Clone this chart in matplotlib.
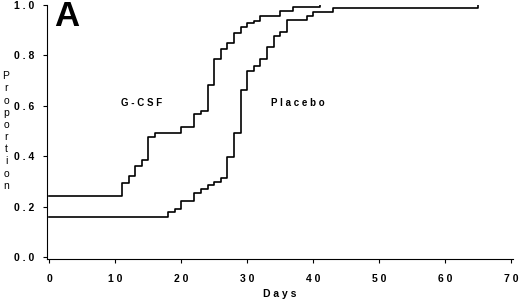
import matplotlib
matplotlib.use("Agg")
import matplotlib.pyplot as plt

# Data
gcsf_days = [0, 11, 12, 13, 14, 15, 16, 20, 22, 23, 24, 25, 26, 27, 28, 29, 30, 31, 32, 35, 37, 41]
gcsf_prop = [0.243, 0.295, 0.321, 0.361, 0.385, 0.477, 0.49, 0.517, 0.566, 0.579, 0.683, 0.785,
             0.825, 0.85, 0.888, 0.914, 0.927, 0.938, 0.955, 0.977, 0.993, 1.0]
placebo_days = [0, 18, 19, 20, 22, 23, 24, 25, 26, 27, 28, 29, 30, 31, 32, 33, 34, 35, 36, 39, 40, 43, 65]
placebo_prop = [0.16, 0.178, 0.192, 0.222, 0.253, 0.269, 0.286, 0.299, 0.315, 0.396, 0.49, 0.663,
                0.739, 0.758, 0.784, 0.832, 0.877, 0.894, 0.94, 0.956, 0.971, 0.987, 1.0]
x_ticks = [0, 10, 20, 30, 40, 50, 60, 70]
x_tick_labels = ["0", "1 0", "2 0", "3 0", "4 0", "5 0", "6 0", "7 0"]
y_ticks = [0.0, 0.2, 0.4, 0.6, 0.8, 1.0]
y_tick_labels = ["0 . 0", "0 . 2", "0 . 4", "0 . 6", "0 . 8", "1 . 0"]

plt.rcParams['font.family'] = ['Liberation Sans', 'DejaVu Sans']

fig = plt.figure(figsize=(5.2, 3.0), dpi=100)
ax = fig.add_axes([0.0898, 0.1367, 0.8958, 0.8467])

ax.step(gcsf_days, gcsf_prop, where='post', color='black', lw=1.2)
ax.step(placebo_days, placebo_prop, where='post', color='black', lw=1.2)

ax.set_xlim(-0.4, 70.2)
ax.set_ylim(-0.008, 1.0)
for s in ['top', 'right']:
    ax.spines[s].set_visible(False)
ax.spines['left'].set_bounds(-0.008, 1.0)
ax.spines['left'].set_linewidth(0.8)
ax.spines['bottom'].set_linewidth(0.8)

ax.set_xticks(x_ticks)
ax.set_xticklabels(x_tick_labels, fontsize=7.5, fontweight='bold')
ax.set_yticks(y_ticks)
ax.set_yticklabels(y_tick_labels, fontsize=7.5, fontweight='bold')
ax.tick_params(axis='both', length=3, width=0.8, direction='out')
ax.tick_params(axis='x', pad=8)
ax.tick_params(axis='y', pad=6)

ax.text(14, 0.612, "G - C S F", fontsize=7, fontweight='bold', ha='center', va='center')
ax.text(37.6, 0.612, "P l a c e b o", fontsize=7, fontweight='bold', ha='center', va='center')

fig.text(280 / 520, 1 - 294 / 300, "D a y s", fontsize=7.5, fontweight='bold', ha='center', va='center')
fig.text(6 / 520, 1 - 131 / 300, "\n".join("Proportion"), fontsize=7.5,
         ha='center', va='center', linespacing=1.27)
fig.text(54 / 520, 1 - 16 / 300, "A", fontsize=25, fontweight='bold', ha='left', va='center')

fig.savefig("out.png", dpi=100)
